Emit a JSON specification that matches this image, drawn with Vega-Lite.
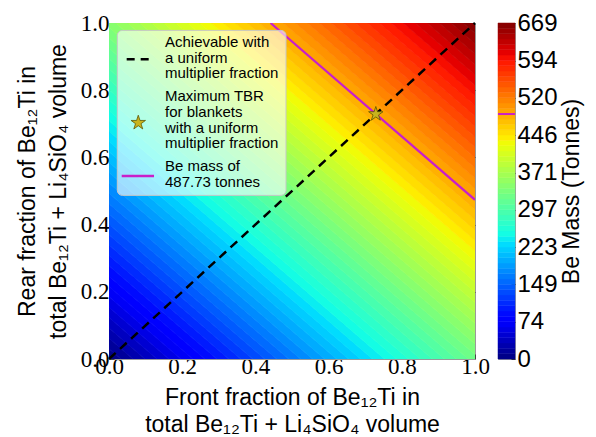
{
  "$schema": "https://vega.github.io/schema/vega-lite/v6.json",
  "background": "white",
  "padding": {"left": 15, "top": 10, "right": 5, "bottom": 5},
  "spacing": 23,
  "bounds": "flush",
  "config": {
    "view": {"stroke": "#9a9a9a", "strokeWidth": 1},
    "axis": {"grid": false, "labelColor": "black", "titleColor": "black", "titleFontWeight": "normal", "tickColor": "#444", "domainColor": "#9a9a9a", "labelOverlap": false}
  },
  "datasets": {
    "bands": [
      {"m":5.31,"lv":0,"hv":10.62,"x":0,"lo":0,"hi":0.0308},{"m":5.31,"x":1,"lo":-0.9419,"hi":-0.9111},
      {"m":15.93,"lv":10.62,"hv":21.24,"x":0,"lo":0.0308,"hi":0.0616},{"m":15.93,"x":1,"lo":-0.9111,"hi":-0.8803},
      {"m":26.55,"lv":21.24,"hv":31.86,"x":0,"lo":0.0616,"hi":0.0925},{"m":26.55,"x":1,"lo":-0.8803,"hi":-0.8494},
      {"m":37.17,"lv":31.86,"hv":42.48,"x":0,"lo":0.0925,"hi":0.1233},{"m":37.17,"x":1,"lo":-0.8494,"hi":-0.8186},
      {"m":47.79,"lv":42.48,"hv":53.1,"x":0,"lo":0.1233,"hi":0.1541},{"m":47.79,"x":1,"lo":-0.8186,"hi":-0.7878},
      {"m":58.4,"lv":53.1,"hv":63.71,"x":0,"lo":0.1541,"hi":0.1849},{"m":58.4,"x":1,"lo":-0.7878,"hi":-0.757},
      {"m":69.02,"lv":63.71,"hv":74.33,"x":0,"lo":0.1849,"hi":0.2158},{"m":69.02,"x":1,"lo":-0.757,"hi":-0.7261},
      {"m":79.64,"lv":74.33,"hv":84.95,"x":0,"lo":0.2158,"hi":0.2466},{"m":79.64,"x":1,"lo":-0.7261,"hi":-0.6953},
      {"m":90.26,"lv":84.95,"hv":95.57,"x":0,"lo":0.2466,"hi":0.2774},{"m":90.26,"x":1,"lo":-0.6953,"hi":-0.6645},
      {"m":100.88,"lv":95.57,"hv":106.19,"x":0,"lo":0.2774,"hi":0.3082},{"m":100.88,"x":1,"lo":-0.6645,"hi":-0.6337},
      {"m":111.5,"lv":106.19,"hv":116.81,"x":0,"lo":0.3082,"hi":0.3391},{"m":111.5,"x":1,"lo":-0.6337,"hi":-0.6028},
      {"m":122.12,"lv":116.81,"hv":127.43,"x":0,"lo":0.3391,"hi":0.3699},{"m":122.12,"x":1,"lo":-0.6028,"hi":-0.572},
      {"m":132.74,"lv":127.43,"hv":138.05,"x":0,"lo":0.3699,"hi":0.4007},{"m":132.74,"x":1,"lo":-0.572,"hi":-0.5412},
      {"m":143.36,"lv":138.05,"hv":148.67,"x":0,"lo":0.4007,"hi":0.4315},{"m":143.36,"x":1,"lo":-0.5412,"hi":-0.5104},
      {"m":153.98,"lv":148.67,"hv":159.29,"x":0,"lo":0.4315,"hi":0.4624},{"m":153.98,"x":1,"lo":-0.5104,"hi":-0.4795},
      {"m":164.6,"lv":159.29,"hv":169.9,"x":0,"lo":0.4624,"hi":0.4932},{"m":164.6,"x":1,"lo":-0.4795,"hi":-0.4487},
      {"m":175.21,"lv":169.9,"hv":180.52,"x":0,"lo":0.4932,"hi":0.524},{"m":175.21,"x":1,"lo":-0.4487,"hi":-0.4179},
      {"m":185.83,"lv":180.52,"hv":191.14,"x":0,"lo":0.524,"hi":0.5548},{"m":185.83,"x":1,"lo":-0.4179,"hi":-0.3871},
      {"m":196.45,"lv":191.14,"hv":201.76,"x":0,"lo":0.5548,"hi":0.5857},{"m":196.45,"x":1,"lo":-0.3871,"hi":-0.3562},
      {"m":207.07,"lv":201.76,"hv":212.38,"x":0,"lo":0.5857,"hi":0.6165},{"m":207.07,"x":1,"lo":-0.3562,"hi":-0.3254},
      {"m":217.69,"lv":212.38,"hv":223,"x":0,"lo":0.6165,"hi":0.6473},{"m":217.69,"x":1,"lo":-0.3254,"hi":-0.2946},
      {"m":228.31,"lv":223,"hv":233.62,"x":0,"lo":0.6473,"hi":0.6781},{"m":228.31,"x":1,"lo":-0.2946,"hi":-0.2638},
      {"m":238.93,"lv":233.62,"hv":244.24,"x":0,"lo":0.6781,"hi":0.709},{"m":238.93,"x":1,"lo":-0.2638,"hi":-0.2329},
      {"m":249.55,"lv":244.24,"hv":254.86,"x":0,"lo":0.709,"hi":0.7398},{"m":249.55,"x":1,"lo":-0.2329,"hi":-0.2021},
      {"m":260.17,"lv":254.86,"hv":265.48,"x":0,"lo":0.7398,"hi":0.7706},{"m":260.17,"x":1,"lo":-0.2021,"hi":-0.1713},
      {"m":270.79,"lv":265.48,"hv":276.1,"x":0,"lo":0.7706,"hi":0.8014},{"m":270.79,"x":1,"lo":-0.1713,"hi":-0.1405},
      {"m":281.4,"lv":276.1,"hv":286.71,"x":0,"lo":0.8014,"hi":0.8322},{"m":281.4,"x":1,"lo":-0.1405,"hi":-0.1097},
      {"m":292.02,"lv":286.71,"hv":297.33,"x":0,"lo":0.8322,"hi":0.8631},{"m":292.02,"x":1,"lo":-0.1097,"hi":-0.0788},
      {"m":302.64,"lv":297.33,"hv":307.95,"x":0,"lo":0.8631,"hi":0.8939},{"m":302.64,"x":1,"lo":-0.0788,"hi":-0.048},
      {"m":313.26,"lv":307.95,"hv":318.57,"x":0,"lo":0.8939,"hi":0.9247},{"m":313.26,"x":1,"lo":-0.048,"hi":-0.0172},
      {"m":323.88,"lv":318.57,"hv":329.19,"x":0,"lo":0.9247,"hi":0.9555},{"m":323.88,"x":1,"lo":-0.0172,"hi":0.0136},
      {"m":334.5,"lv":329.19,"hv":339.81,"x":0,"lo":0.9555,"hi":0.9864},{"m":334.5,"x":1,"lo":0.0136,"hi":0.0445},
      {"m":345.12,"lv":339.81,"hv":350.43,"x":0,"lo":0.9864,"hi":1.0172},{"m":345.12,"x":1,"lo":0.0445,"hi":0.0753},
      {"m":355.74,"lv":350.43,"hv":361.05,"x":0,"lo":1.0172,"hi":1.048},{"m":355.74,"x":1,"lo":0.0753,"hi":0.1061},
      {"m":366.36,"lv":361.05,"hv":371.67,"x":0,"lo":1.048,"hi":1.0788},{"m":366.36,"x":1,"lo":0.1061,"hi":0.1369},
      {"m":376.98,"lv":371.67,"hv":382.29,"x":0,"lo":1.0788,"hi":1.1097},{"m":376.98,"x":1,"lo":0.1369,"hi":0.1678},
      {"m":387.6,"lv":382.29,"hv":392.9,"x":0,"lo":1.1097,"hi":1.1405},{"m":387.6,"x":1,"lo":0.1678,"hi":0.1986},
      {"m":398.21,"lv":392.9,"hv":403.52,"x":0,"lo":1.1405,"hi":1.1713},{"m":398.21,"x":1,"lo":0.1986,"hi":0.2294},
      {"m":408.83,"lv":403.52,"hv":414.14,"x":0,"lo":1.1713,"hi":1.2021},{"m":408.83,"x":1,"lo":0.2294,"hi":0.2602},
      {"m":419.45,"lv":414.14,"hv":424.76,"x":0,"lo":1.2021,"hi":1.233},{"m":419.45,"x":1,"lo":0.2602,"hi":0.2911},
      {"m":430.07,"lv":424.76,"hv":435.38,"x":0,"lo":1.233,"hi":1.2638},{"m":430.07,"x":1,"lo":0.2911,"hi":0.3219},
      {"m":440.69,"lv":435.38,"hv":446,"x":0,"lo":1.2638,"hi":1.2946},{"m":440.69,"x":1,"lo":0.3219,"hi":0.3527},
      {"m":451.31,"lv":446,"hv":456.62,"x":0,"lo":1.2946,"hi":1.3254},{"m":451.31,"x":1,"lo":0.3527,"hi":0.3835},
      {"m":461.93,"lv":456.62,"hv":467.24,"x":0,"lo":1.3254,"hi":1.3563},{"m":461.93,"x":1,"lo":0.3835,"hi":0.4144},
      {"m":472.55,"lv":467.24,"hv":477.86,"x":0,"lo":1.3563,"hi":1.3871},{"m":472.55,"x":1,"lo":0.4144,"hi":0.4452},
      {"m":483.17,"lv":477.86,"hv":488.48,"x":0,"lo":1.3871,"hi":1.4179},{"m":483.17,"x":1,"lo":0.4452,"hi":0.476},
      {"m":493.79,"lv":488.48,"hv":499.1,"x":0,"lo":1.4179,"hi":1.4487},{"m":493.79,"x":1,"lo":0.476,"hi":0.5068},
      {"m":504.4,"lv":499.1,"hv":509.71,"x":0,"lo":1.4487,"hi":1.4796},{"m":504.4,"x":1,"lo":0.5068,"hi":0.5377},
      {"m":515.02,"lv":509.71,"hv":520.33,"x":0,"lo":1.4796,"hi":1.5104},{"m":515.02,"x":1,"lo":0.5377,"hi":0.5685},
      {"m":525.64,"lv":520.33,"hv":530.95,"x":0,"lo":1.5104,"hi":1.5412},{"m":525.64,"x":1,"lo":0.5685,"hi":0.5993},
      {"m":536.26,"lv":530.95,"hv":541.57,"x":0,"lo":1.5412,"hi":1.572},{"m":536.26,"x":1,"lo":0.5993,"hi":0.6301},
      {"m":546.88,"lv":541.57,"hv":552.19,"x":0,"lo":1.572,"hi":1.6028},{"m":546.88,"x":1,"lo":0.6301,"hi":0.6609},
      {"m":557.5,"lv":552.19,"hv":562.81,"x":0,"lo":1.6028,"hi":1.6337},{"m":557.5,"x":1,"lo":0.6609,"hi":0.6918},
      {"m":568.12,"lv":562.81,"hv":573.43,"x":0,"lo":1.6337,"hi":1.6645},{"m":568.12,"x":1,"lo":0.6918,"hi":0.7226},
      {"m":578.74,"lv":573.43,"hv":584.05,"x":0,"lo":1.6645,"hi":1.6953},{"m":578.74,"x":1,"lo":0.7226,"hi":0.7534},
      {"m":589.36,"lv":584.05,"hv":594.67,"x":0,"lo":1.6953,"hi":1.7261},{"m":589.36,"x":1,"lo":0.7534,"hi":0.7842},
      {"m":599.98,"lv":594.67,"hv":605.29,"x":0,"lo":1.7261,"hi":1.757},{"m":599.98,"x":1,"lo":0.7842,"hi":0.8151},
      {"m":610.6,"lv":605.29,"hv":615.9,"x":0,"lo":1.757,"hi":1.7878},{"m":610.6,"x":1,"lo":0.8151,"hi":0.8459},
      {"m":621.21,"lv":615.9,"hv":626.52,"x":0,"lo":1.7878,"hi":1.8186},{"m":621.21,"x":1,"lo":0.8459,"hi":0.8767},
      {"m":631.83,"lv":626.52,"hv":637.14,"x":0,"lo":1.8186,"hi":1.8494},{"m":631.83,"x":1,"lo":0.8767,"hi":0.9075},
      {"m":642.45,"lv":637.14,"hv":647.76,"x":0,"lo":1.8494,"hi":1.8803},{"m":642.45,"x":1,"lo":0.9075,"hi":0.9384},
      {"m":653.07,"lv":647.76,"hv":658.38,"x":0,"lo":1.8803,"hi":1.9111},{"m":653.07,"x":1,"lo":0.9384,"hi":0.9692},
      {"m":663.69,"lv":658.38,"hv":669,"x":0,"lo":1.9111,"hi":1.9419},{"m":663.69,"x":1,"lo":0.9692,"hi":1.0}
    ],
    "contour": [{"x":0.4414,"y":1},{"x":1,"y":0.4738}],
    "diag": [{"x":0,"y":0},{"x":1,"y":1}],
    "opt": [{"x":0.729,"y":0.729}]
  },
  "hconcat": [
    {
      "width": 366,
      "height": 336,
      "resolve": {"axis": {"x": "independent", "y": "independent"}},
      "layer": [
        {
          "data": {"name": "bands"},
          "mark": {"type": "area", "clip": true, "strokeWidth": 0.7},
          "encoding": {
            "x": {"field": "x", "type": "quantitative",
              "scale": {"domain": [0, 1], "nice": false, "zero": false},
              "axis": {"orient": "bottom", "values": [0, 0.2, 0.4, 0.6, 0.8, 1.0], "format": ".1f",
                "labelFont": "Liberation Serif", "labelFontSize": 23, "tickSize": -5, "labelPadding": 1,
                "labelFlush": false, "labelOverlap": false,
                "title": ["Front fraction of Be₁₂Ti in", "total Be₁₂Ti + Li₄SiO₄ volume"],
                "titleFont": "Liberation Sans", "titleFontSize": 23, "titleLineHeight": 27, "titlePadding": 8}},
            "y": {"field": "lo", "type": "quantitative",
              "scale": {"domain": [0, 1], "nice": false, "zero": false},
              "axis": {"orient": "left", "values": [0, 0.2, 0.4, 0.6, 0.8, 1.0], "format": ".1f",
                "labelFont": "Liberation Serif", "labelFontSize": 23, "tickSize": -5, "labelPadding": 5,
                "labelFlush": false, "labelOverlap": false,
                "title": ["Rear fraction of Be₁₂Ti in", "total Be₁₂Ti + Li₄SiO₄ volume"],
                "titleFont": "Liberation Sans", "titleFontSize": 23, "titleLineHeight": 31, "titlePadding": 10}},
            "y2": {"field": "hi"},
            "detail": {"field": "m", "type": "quantitative"},
            "color": {"field": "m", "type": "quantitative", "legend": null,
              "scale": {"type": "linear", "interpolate": "rgb",
                "domain": [0, 73.6, 83.6, 227.5, 250.9, 428.2, 441.5, 595.4, 608.8, 669],
                "range": ["#000080", "#0000ff", "#0000ff", "#00dbff", "#15ffe2", "#eeff08", "#ffec00", "#ff1300", "#e80000", "#800000"]}},
            "stroke": {"field": "m", "type": "quantitative", "legend": null,
              "scale": {"type": "linear", "interpolate": "rgb",
                "domain": [0, 73.6, 83.6, 227.5, 250.9, 428.2, 441.5, 595.4, 608.8, 669],
                "range": ["#000080", "#0000ff", "#0000ff", "#00dbff", "#15ffe2", "#eeff08", "#ffec00", "#ff1300", "#e80000", "#800000"]}}
          }
        },
        {
          "data": {"name": "contour"},
          "mark": {"type": "line", "color": "#c91fc9", "strokeWidth": 2.2, "clip": true},
          "encoding": {
            "x": {"field": "x", "type": "quantitative", "axis": null},
            "y": {"field": "y", "type": "quantitative", "axis": null}
          }
        },
        {
          "data": {"name": "diag"},
          "mark": {"type": "line", "color": "black", "strokeWidth": 2.5, "strokeDash": [9, 6]},
          "encoding": {
            "x": {"field": "x", "type": "quantitative",
              "axis": {"orient": "top", "labels": false, "title": null, "domain": false, "tickSize": -5, "values": [0.2, 0.4, 0.6, 0.8]}},
            "y": {"field": "y", "type": "quantitative",
              "axis": {"orient": "right", "labels": false, "title": null, "domain": false, "tickSize": -5, "values": [0.2, 0.4, 0.6, 0.8]}}
          }
        },
        {
          "data": {"values": [{}]},
          "mark": {"type": "rect", "fill": "white", "fillOpacity": 0.62, "stroke": "#c8c8c8", "strokeWidth": 1, "cornerRadius": 5},
          "encoding": {
            "x": {"datum": 0.0227, "type": "quantitative", "axis": null},
            "x2": {"datum": 0.4836},
            "y": {"datum": 0.487, "type": "quantitative", "axis": null},
            "y2": {"datum": 0.978}
          }
        },
        {
          "data": {"name": "opt"},
          "mark": {"type": "point", "shape": "M0,-1L0.2245,-0.309L0.951,-0.309L0.363,0.118L0.588,0.809L0,0.382L-0.588,0.809L-0.363,0.118L-0.951,-0.309L-0.2245,-0.309Z", "filled": true, "fill": "#c8b41e", "stroke": "#5f5500", "strokeWidth": 0.8, "opacity": 1, "size": 230},
          "encoding": {
            "x": {"field": "x", "type": "quantitative", "axis": null},
            "y": {"field": "y", "type": "quantitative", "axis": null}
          }
        },
        {
          "data": {"values": [{}]},
          "mark": {"type": "rule", "color": "black", "strokeWidth": 2.5, "strokeDash": [8, 6]},
          "encoding": {
            "x": {"datum": 0.0483, "type": "quantitative", "axis": null},
            "x2": {"datum": 0.1101},
            "y": {"datum": 0.892, "type": "quantitative", "axis": null}
          }
        },
        {
          "data": {"values": [{}]},
          "mark": {"type": "point", "shape": "M0,-1L0.2245,-0.309L0.951,-0.309L0.363,0.118L0.588,0.809L0,0.382L-0.588,0.809L-0.363,0.118L-0.951,-0.309L-0.2245,-0.309Z", "filled": true, "fill": "#c8b41e", "stroke": "#5f5500", "strokeWidth": 0.8, "opacity": 1, "size": 230},
          "encoding": {
            "x": {"datum": 0.08, "type": "quantitative", "axis": null},
            "y": {"datum": 0.703, "type": "quantitative", "axis": null}
          }
        },
        {
          "data": {"values": [{}]},
          "mark": {"type": "rule", "color": "#c91fc9", "strokeWidth": 2.5},
          "encoding": {
            "x": {"datum": 0.0347, "type": "quantitative", "axis": null},
            "x2": {"datum": 0.123},
            "y": {"datum": 0.5446, "type": "quantitative", "axis": null}
          }
        },
        {
          "data": {"values": [{}]},
          "mark": {"type": "text", "align": "left", "baseline": "alphabetic", "font": "Liberation Sans", "fontSize": 15, "lineHeight": 15.7, "lineBreak": "\n", "color": "black",
            "text": "Achievable with\na uniform\nmultiplier fraction"},
          "encoding": {
            "x": {"datum": 0.153, "type": "quantitative", "axis": null},
            "y": {"datum": 0.9286, "type": "quantitative", "axis": null}
          }
        },
        {
          "data": {"values": [{}]},
          "mark": {"type": "text", "align": "left", "baseline": "alphabetic", "font": "Liberation Sans", "fontSize": 15, "lineHeight": 15.7, "lineBreak": "\n", "color": "black",
            "text": "Maximum TBR\nfor blankets\nwith a uniform\nmultiplier fraction"},
          "encoding": {
            "x": {"datum": 0.153, "type": "quantitative", "axis": null},
            "y": {"datum": 0.767, "type": "quantitative", "axis": null}
          }
        },
        {
          "data": {"values": [{}]},
          "mark": {"type": "text", "align": "left", "baseline": "alphabetic", "font": "Liberation Sans", "fontSize": 15, "lineHeight": 15.7, "lineBreak": "\n", "color": "black",
            "text": "Be mass of\n487.73 tonnes"},
          "encoding": {
            "x": {"datum": 0.153, "type": "quantitative", "axis": null},
            "y": {"datum": 0.5586, "type": "quantitative", "axis": null}
          }
        }
      ]
    },
    {
      "width": 17,
      "height": 336,
      "resolve": {"axis": {"y": "independent"}},
      "layer": [
        {
          "data": {"name": "bands"},
          "transform": [{"filter": {"field": "x", "equal": 0}}],
          "mark": {"type": "rect", "strokeWidth": 0.5},
          "encoding": {
            "x": {"datum": 0, "type": "quantitative", "scale": {"domain": [0, 1], "nice": false}, "axis": null},
            "x2": {"datum": 1},
            "y": {"field": "lv", "type": "quantitative",
              "scale": {"domain": [0, 669], "nice": false, "zero": false},
              "axis": {"orient": "right", "values": [0, 74, 149, 223, 297, 371, 446, 520, 594, 669], "format": "d",
                "labelFont": "Liberation Sans", "labelFontSize": 24, "tickSize": -4, "tickColor": "#333", "labelPadding": 6, "domain": false,
                "labelFlush": false, "labelOverlap": false, "labelBound": false,
                "title": "Be Mass (Tonnes)", "titleAngle": 270, "titleBaseline": "top", "titleFont": "Liberation Sans", "titleFontSize": 23, "titlePadding": 3}},
            "y2": {"field": "hv"},
            "color": {"field": "m", "type": "quantitative", "legend": null,
              "scale": {"type": "linear", "interpolate": "rgb",
                "domain": [0, 73.6, 83.6, 227.5, 250.9, 428.2, 441.5, 595.4, 608.8, 669],
                "range": ["#000080", "#0000ff", "#0000ff", "#00dbff", "#15ffe2", "#eeff08", "#ffec00", "#ff1300", "#e80000", "#800000"]}},
            "stroke": {"field": "m", "type": "quantitative", "legend": null,
              "scale": {"type": "linear", "interpolate": "rgb",
                "domain": [0, 73.6, 83.6, 227.5, 250.9, 428.2, 441.5, 595.4, 608.8, 669],
                "range": ["#000080", "#0000ff", "#0000ff", "#00dbff", "#15ffe2", "#eeff08", "#ffec00", "#ff1300", "#e80000", "#800000"]}}
          }
        },
        {
          "data": {"values": [{}]},
          "mark": {"type": "rule", "color": "#c91fc9", "strokeWidth": 2},
          "encoding": {
            "y": {"datum": 487.73, "type": "quantitative", "axis": null}
          }
        }
      ]
    }
  ]
}
